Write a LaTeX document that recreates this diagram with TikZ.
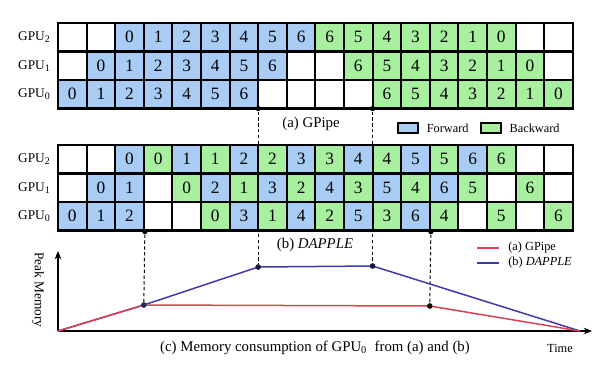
\documentclass[tikz,border=0pt]{standalone}
\usepackage{fontspec}
\setmainfont{Liberation Serif}
\usetikzlibrary{positioning, arrows.meta}

\definecolor{fwdblue}{RGB}{168,204,244}
\definecolor{bwdgreen}{RGB}{168,240,160}
\definecolor{gpipered}{RGB}{222,64,80}
\definecolor{dappleblue}{RGB}{62,58,168}

\tikzset{
  cell/.style={rectangle, draw=black, line width=1.3pt, minimum width=17.16pt, minimum height=17.1pt, inner sep=0pt, font=\fontsize{10.4}{12}\selectfont},
  fw/.style={cell, fill=fwdblue},
  bw/.style={cell, fill=bwdgreen},
  idle/.style={cell, fill=white},
  gpulabel/.style={anchor=east, inner sep=0pt, font=\fontsize{8}{9}\selectfont},
  caption/.style={inner sep=0pt, font=\fontsize{8.9}{10}\selectfont},
  legtext/.style={inner sep=0pt, anchor=west, font=\fontsize{7.4}{9}\selectfont},
  legbox/.style={rectangle, draw=black, line width=1pt, minimum width=12pt, minimum height=6pt, inner sep=0pt},
  dot/.style={circle, fill=black, inner sep=0pt, minimum size=3.2pt},
  guide/.style={line width=0.6pt, dash pattern=on 2pt off 1.5pt},
  memline/.style={line width=0.9pt},
}

\begin{document}
\begin{tikzpicture}[x=0.6pt, y=-0.6pt]
  \useasboundingbox (0,0) rectangle (610,369);

  % (a) GPipe
  \foreach \k/\v [count=\c from 0] in {idle/{},idle/{},fw/0,fw/1,fw/2,fw/3,fw/4,fw/5,fw/6,bw/6,bw/5,bw/4,bw/3,bw/2,bw/1,bw/0,idle/{},idle/{}}
    \node[\k] (ga2-\c) at ({72.3+28.6*\c},37.25) {\v};
  \foreach \k/\v [count=\c from 0] in {idle/{},fw/0,fw/1,fw/2,fw/3,fw/4,fw/5,fw/6,idle/{},idle/{},bw/6,bw/5,bw/4,bw/3,bw/2,bw/1,bw/0,idle/{}}
    \node[\k] (ga1-\c) at ({72.3+28.6*\c},65.75) {\v};
  \foreach \k/\v [count=\c from 0] in {fw/0,fw/1,fw/2,fw/3,fw/4,fw/5,fw/6,idle/{},idle/{},idle/{},idle/{},bw/6,bw/5,bw/4,bw/3,bw/2,bw/1,bw/0}
    \node[\k] (ga0-\c) at ({72.3+28.6*\c},94.25) {\v};
  \node[gpulabel] (la2) at (51,37.25) {GPU\textsubscript{2}};
  \node[gpulabel] (la1) at (51,65.75) {GPU\textsubscript{1}};
  \node[gpulabel] (la0) at (51,94.25) {GPU\textsubscript{0}};
  \node[caption] (capa) at (311,124) {(a) GPipe};
  \node[legbox, fill=fwdblue] (keyf) at (408,128) {};
  \node[legtext, right=4.6pt of keyf] (keyft) {Forward};
  \node[legbox, fill=bwdgreen, right=6.6pt of keyft] (keyb) {};
  \node[legtext, right=4.6pt of keyb] (keybt) {Backward};

  % dashed guides (behind grid b)
  \coordinate (o) at (58,331);
  \coordinate (tend) at (580,331);
  \node[dot] (sa1) at (258.2,108.5) {};
  \node[dot] (sa2) at (372.6,108.5) {};
  \node[dot] (pd0) at (143.8,305) {};
  \node[dot] (pd1) at (258.2,267) {};
  \node[dot] (pd2) at (372.6,266) {};
  \node[dot] (pd3) at (429.8,306) {};
  \draw[guide] (sa1) -- (pd1);
  \draw[guide] (sa2) -- (pd2);

  % (b) DAPPLE
  \foreach \k/\v [count=\c from 0] in {idle/{},idle/{},fw/0,bw/0,fw/1,bw/1,fw/2,bw/2,fw/3,bw/3,fw/4,bw/4,fw/5,bw/5,fw/6,bw/6,idle/{},idle/{}}
    \node[\k] (gb2-\c) at ({72.3+28.6*\c},159.25) {\v};
  \foreach \k/\v [count=\c from 0] in {idle/{},fw/0,fw/1,idle/{},bw/0,fw/2,bw/1,fw/3,bw/2,fw/4,bw/3,fw/5,bw/4,fw/6,bw/5,idle/{},bw/6,idle/{}}
    \node[\k] (gb1-\c) at ({72.3+28.6*\c},187.75) {\v};
  \foreach \k/\v [count=\c from 0] in {fw/0,fw/1,fw/2,idle/{},idle/{},bw/0,fw/3,bw/1,fw/4,bw/2,fw/5,bw/3,fw/6,bw/4,idle/{},bw/5,idle/{},bw/6}
    \node[\k] (gb0-\c) at ({72.3+28.6*\c},216.25) {\v};
  \node[gpulabel] (lb2) at (51,159.25) {GPU\textsubscript{2}};
  \node[gpulabel] (lb1) at (51,187.75) {GPU\textsubscript{1}};
  \node[gpulabel] (lb0) at (51,216.25) {GPU\textsubscript{0}};
  \node[dot] (sb1) at (gb0-2.south east) {};
  \node[dot] (sb2) at (gb0-12.south east) {};
  \node[caption] (capb) at (315,245) {(b) \textit{DAPPLE}};
  \draw[guide] (sb1) -- (pd0);
  \draw[guide] (sb2) -- (pd3);

  % (c) memory of GPU0
  \coordinate (ytop) at (58,251);
  \coordinate (xend) at (592,331);
  \draw[-{Stealth[length=5pt, width=4pt]}, line width=0.7pt] (o) -- (ytop);
  \draw[-{Stealth[length=5pt, width=4pt]}, line width=0.7pt] (o) -- (xend);
  \draw[memline, dappleblue] (o) -- (pd0.center) -- (pd1.center) -- (pd2.center) -- (tend);
  \draw[memline, gpipered] (o) -- (pd0.center) -- (pd3.center) -- (tend);
  \node[dot, fill=dappleblue!60!black] at (pd0) {};
  \node[dot, fill=dappleblue!40!black] at (pd1) {};
  \node[dot, fill=dappleblue!40!black] at (pd2) {};
  \node[dot] at (pd3) {};
  \node[rotate=-90, inner sep=0pt, font=\fontsize{8}{9}\selectfont] (ylab) at (38,290) {Peak Memory};
  \node[legtext, anchor=center] (tlab) at (560,348) {Time};
  \node[caption] (capc) at (315,348) {(c) Memory consumption of GPU\textsubscript{0}\ \ from (a) and (b)};
  \coordinate (lr1) at (477,248);
  \coordinate (lr2) at (499,248);
  \coordinate (lb1c) at (477,263);
  \coordinate (lb2c) at (499,263);
  \draw[memline, gpipered] (lr1) -- (lr2);
  \draw[memline, dappleblue] (lb1c) -- (lb2c);
  \node[legtext, right=5.4pt of lr2] (lrt) {(a) GPipe};
  \node[legtext, right=5.4pt of lb2c] (lbt) {(b) \textit{DAPPLE}};
\end{tikzpicture}
\end{document}
